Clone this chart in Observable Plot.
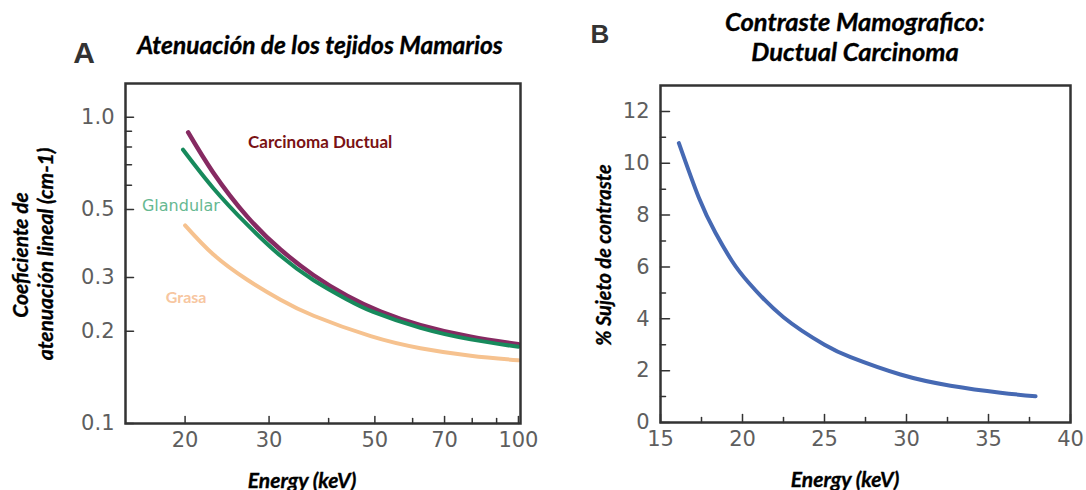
<!DOCTYPE html>
<html><head><meta charset="utf-8">
<script src="https://cdn.jsdelivr.net/npm/d3@7"></script>
<script src="https://cdn.jsdelivr.net/npm/@observablehq/plot@0.6"></script>
<style>
body{margin:0;background:#fff;}
#root{position:relative;width:1086px;height:490px;overflow:hidden;background:#fff;}
.t{position:absolute;white-space:nowrap;line-height:1;transform:translate(-50%,-50%);}
.r{transform:translate(-50%,-50%) rotate(-90deg);}
.ttl{font-family:Lato,sans-serif;font-weight:700;font-style:italic;color:#000;-webkit-text-stroke:0.35px #000;}
.let{font-family:'Liberation Sans',Arial,sans-serif;font-weight:700;color:#333;}
.wrap{position:absolute;top:0;}
</style></head><body><div id="root"></div>
<script>
// ---- Panel A data: linear attenuation coefficient (cm-1) vs energy (keV)
const energyCarcinoma = [20.3, 22.9, 27.0, 31.7, 37.2, 43.8, 51.4, 62.3, 79.4, 100];
const atenCarcinoma   = [0.893, 0.661, 0.474, 0.370, 0.305, 0.261, 0.232, 0.2096, 0.192, 0.1816];
const energyGlandular = [19.8, 22.9, 27.0, 31.7, 37.2, 43.8, 49.6, 62.3, 79.4, 100];
const atenGlandular   = [0.784, 0.588, 0.446, 0.353, 0.2936, 0.2537, 0.2314, 0.2053, 0.1883, 0.178];
const energyGrasa     = [20.0, 22.9, 27.0, 31.7, 37.2, 49.0, 62.3, 79.4, 100];
const atenGrasa       = [0.4437, 0.357, 0.2948, 0.2537, 0.2249, 0.1929, 0.1762, 0.1665, 0.1608];
const xTicksA = [20, 30, 50, 70, 100];
const xMinorA = [40, 60, 80, 90];
const yTicksA = [0.1, 0.2, 0.3, 0.5, 1.0];
const yMinorA = [0.6, 0.7, 0.8, 0.9];
const labelsA = ["Carcinoma Ductual", "Glandular", "Grasa"];

// ---- Panel B data: % subject contrast vs energy (keV)
const energyB   = [16.12, 17.34, 18.35, 19.37, 20.38, 22.5, 25.0, 26.59, 29.63, 32.68, 35.73, 37.87];
const contrastB = [10.78, 8.67, 7.32, 6.22, 5.39, 4.06, 3.0, 2.52, 1.85, 1.42, 1.15, 1.01];
const xTicksB = [15, 20, 25, 30, 35, 40];
const xMinorB = [17.5, 22.5, 27.5, 32.5, 37.5];
const yTicksB = [0, 2, 4, 6, 8, 10, 12];
const yMinorB = [1, 3, 5, 7, 9, 11];

const rows = (xs, ys) => xs.map((e, i) => ({e, v: ys[i]}));
const tickColor = "#333";
const labColor = "#5e5e5e";
const tickShape = {draw(context, l) { context.moveTo(0, 0); context.lineTo(0, -l); }};

function xTicks(values, len) {
  return Plot.vector(values, {x: d => d, frameAnchor: "bottom", length: len, rotate: 0, anchor: "start",
    shape: tickShape, stroke: tickColor, strokeWidth: 1.5});
}
function yTicks(values, len) {
  return Plot.vector(values, {y: d => d, frameAnchor: "left", length: len, rotate: 90, anchor: "start",
    shape: tickShape, stroke: tickColor, strokeWidth: 1.5});
}
function xLabels(values, fmt) {
  return Plot.text(values, {x: d => d, frameAnchor: "bottom", dy: 9, lineAnchor: "top", text: fmt,
    fill: labColor, fontSize: 21});
}
function yLabels(values, fmt) {
  return Plot.text(values, {y: d => d, frameAnchor: "left", dx: -11, textAnchor: "end", text: fmt,
    fill: labColor, fontSize: 21});
}

const chartA = Plot.plot({
  width: 545, height: 490,
  marginLeft: 125, marginRight: 25, marginTop: 83, marginBottom: 67,
  style: {fontFamily: "'DejaVu Sans', sans-serif", fontSize: "21px", background: "transparent", overflow: "visible"},
  x: {type: "log", domain: [15, 101], label: null, axis: null},
  y: {type: "log", domain: [0.1, 1.29], label: null, axis: null},
  marks: [
    xLabels(xTicksA, d => String(d)),
    xTicks(xTicksA, 7),
    xTicks(xMinorA, 5),
    yLabels(yTicksA, d => d.toFixed(1)),
    yTicks(yTicksA, 8),
    yTicks(yMinorA, 6),
    Plot.line(rows(energyGrasa, atenGrasa), {x: "e", y: "v", stroke: "#f6c28f", strokeWidth: 4, curve: "natural"}),
    Plot.line(rows(energyCarcinoma, atenCarcinoma), {x: "e", y: "v", stroke: "#862a62", strokeWidth: 4.5, curve: "natural"}),
    Plot.line(rows(energyGlandular, atenGlandular), {x: "e", y: "v", stroke: "#178a5c", strokeWidth: 4, curve: "natural"}),
    Plot.text([labelsA[0]], {x: 38.4, y: 0.83, text: d => d, fill: "#7a1214", fontFamily: "Lato, sans-serif", fontWeight: 700, fontSize: 17}),
    Plot.text([labelsA[1]], {x: 19.6, y: 0.513, text: d => d, fill: "#66b891", fontFamily: "'DejaVu Sans', sans-serif", fontSize: 16}),
    Plot.text([labelsA[2]], {x: 20.1, y: 0.258, text: d => d, fill: "#f7c6a0", fontFamily: "Lato, sans-serif", fontWeight: 700, fontSize: 16}),
    Plot.frame({stroke: "#333", strokeWidth: 2.5})
  ]
});

const chartB = Plot.plot({
  width: 541, height: 490,
  marginLeft: 115, marginRight: 16, marginTop: 85, marginBottom: 68,
  style: {fontFamily: "'DejaVu Sans', sans-serif", fontSize: "21px", background: "transparent", overflow: "visible"},
  x: {domain: [15, 40], label: null, axis: null},
  y: {domain: [0, 13], label: null, axis: null},
  marks: [
    xLabels(xTicksB, d => String(d)),
    xTicks(xTicksB, 8),
    xTicks(xMinorB, 5),
    yLabels(yTicksB, d => String(d)),
    yTicks(yTicksB, 9),
    yTicks(yMinorB, 5),
    Plot.line(rows(energyB, contrastB), {x: "e", y: "v", stroke: "#4669b3", strokeWidth: 4, curve: "natural"}),
    Plot.frame({stroke: "#333", strokeWidth: 2.5})
  ]
});

const root = document.getElementById("root");
const wa = document.createElement("div"); wa.className = "wrap"; wa.style.left = "0px"; wa.appendChild(chartA); root.appendChild(wa);
const wb = document.createElement("div"); wb.className = "wrap"; wb.style.left = "545px"; wb.appendChild(chartB); root.appendChild(wb);

function put(text, x, y, cls, size) {
  const d = document.createElement("div");
  d.className = "t " + cls;
  d.textContent = text;
  d.style.left = x + "px"; d.style.top = y + "px"; d.style.fontSize = size + "px";
  root.appendChild(d);
}
put("A", 84, 53, "let", 30);
put("B", 600, 34, "let", 26);
put("Atenuación de los tejidos Mamarios", 320, 45, "ttl", 24.5);
put("Contraste Mamografico:", 855, 22, "ttl", 25.5);
put("Ductual Carcinoma", 855, 52, "ttl", 25.5);
put("Coeficiente de", 19, 255, "ttl r", 21);
put("atenuación lineal (cm-1)", 44, 254, "ttl r", 21);
put("Energy (keV)", 302, 479, "ttl", 21);
put("% Sujeto de contraste", 603, 255, "ttl r", 20);
put("Energy (keV)", 845, 478, "ttl", 21);
</script></body></html>
